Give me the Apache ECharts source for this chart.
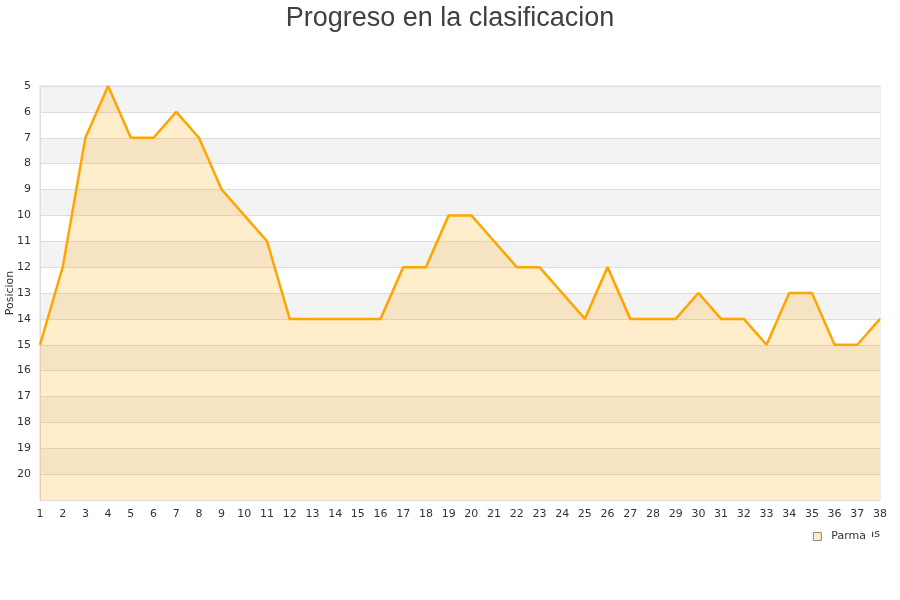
<!DOCTYPE html>
<html>
<head>
<meta charset="utf-8">
<script src="https://cdn.jsdelivr.net/npm/echarts@6/dist/echarts.min.js"></script>
<style>html,body{margin:0;padding:0;background:#fff}#c{width:900px;height:600px}</style>
</head>
<body>
<div id="c"></div>
<script>
const titleText = 'Progreso en la clasificacion';
const seriesName = 'Parma';
const yAxisName = 'Posicion';
const xAxisName = 'Jornadas';
const jornadas = [1,2,3,4,5,6,7,8,9,10,11,12,13,14,15,16,17,18,19,20,21,22,23,24,25,26,27,28,29,30,31,32,33,34,35,36,37,38];
const posiciones = [15,12,7,5,7,7,6,7,9,10,11,14,14,14,14,14,12,12,10,10,11,12,12,13,14,12,14,14,14,13,14,14,15,13,13,15,15,14];
const yMin = 5, yMax = 21;

const chart = echarts.init(document.getElementById('c'));
chart.setOption({
  animation: false,
  backgroundColor: '#fff',
  title: {
    text: titleText, left: 'center', top: 0,
    textStyle: { fontFamily: 'Liberation Sans', fontSize: 27, fontWeight: 'normal', color: '#404040' }
  },
  legend: {
    data: [{ name: seriesName, icon: 'rect', itemStyle: { color: '#ffecc8', borderColor: '#888', borderWidth: 1 } }],
    right: 28, top: 529, itemWidth: 8, itemHeight: 8, itemGap: 6,
    backgroundColor: '#fff', padding: [2, 6, 2, 4],
    textStyle: { fontFamily: 'DejaVu Sans', fontSize: 11, color: '#333', padding: [0, 0, 0, 5] }
  },
  grid: { left: 40, right: 20, top: 86, bottom: 100, show: true, borderColor: '#ddd', borderWidth: 1,
    outerBoundsMode: 'none', containLabel: false },
  xAxis: {
    type: 'category', data: jornadas, boundaryGap: false,
    name: xAxisName, nameLocation: 'end', nameGap: 0, nameMoveOverlap: false,
    nameTextStyle: { fontFamily: 'DejaVu Sans', fontSize: 11, color: '#333', align: 'right', verticalAlign: 'top', padding: [29, 0, 0, 0] },
    axisLine: { lineStyle: { color: '#ddd' } },
    axisTick: { show: false },
    axisLabel: { fontFamily: 'DejaVu Sans', fontSize: 11, color: '#333', margin: 9, interval: 0 },
    splitLine: { show: false }
  },
  yAxis: {
    type: 'value', inverse: true, min: yMin, max: yMax, interval: 1,
    name: yAxisName, nameLocation: 'middle', nameGap: 24, nameMoveOverlap: false,
    nameTextStyle: { fontFamily: 'DejaVu Sans', fontSize: 11, color: '#333' },
    axisLine: { show: true, lineStyle: { color: '#ddd' } },
    axisTick: { show: false },
    axisLabel: { fontFamily: 'DejaVu Sans', fontSize: 11, color: '#333', margin: 9,
      formatter: v => (v === yMax ? '' : String(v)) },
    splitLine: { show: true, lineStyle: { color: '#ddd', width: 1 } },
    splitArea: { show: true, areaStyle: { color: ['#f3f3f3', '#ffffff'] } }
  },
  series: [{
    name: seriesName, type: 'line', data: posiciones,
    showSymbol: false, symbol: 'none',
    lineStyle: { color: '#ffa500', width: 2.5 },
    itemStyle: { color: '#ffa500' },
    areaStyle: { color: 'rgba(255,165,0,0.2)', opacity: 1, origin: 'end' }
  }]
});
</script>
</body>
</html>
